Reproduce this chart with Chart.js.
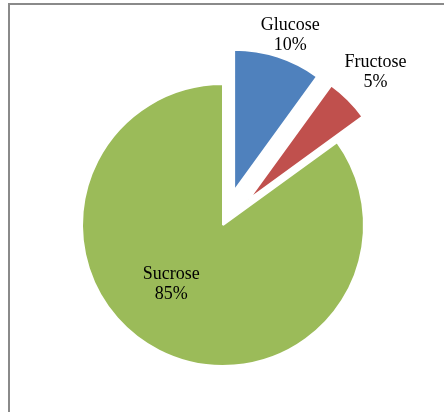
<!DOCTYPE html>
<html>
<head>
<meta charset="utf-8">
<script src="https://cdn.jsdelivr.net/npm/chart.js"></script>
<style>
  html, body { margin: 0; padding: 0; background: #fff; overflow: hidden; }
  #wrap { position: relative; width: 444px; height: 412px; }
</style>
</head>
<body>
<div id="wrap"><canvas id="sugars" width="444" height="412"></canvas></div>
<script>
// sugar share, clockwise from 12 o'clock
const sugars = ["Glucose", "Fructose", "Sucrose"];
const shares = [10, 5, 85];
const sliceColors = ["#4f81bd", "#c0504d", "#9bbb59"];
// how far each slice is pulled out from the centre, px
const pulledOut = [36, 36, 0];

// where each label sits: fraction of the radius out from the centre, and a turn in degrees off the slice middle
const labelSpots = [
    { r: 1.43, turn: 1.5 },
    { r: 1.53, turn: 0 },
    { r: 0.56, turn: 14 }
];

// thin grey frame, open to the right and bottom
const framePlugin = {
    id: "frame",
    beforeDraw(chart) {
        const ctx = chart.ctx;
        ctx.save();
        ctx.fillStyle = "#fff";
        ctx.fillRect(0, 0, chart.width, chart.height);
        ctx.strokeStyle = "#8a8a8a";
        ctx.lineWidth = 2;
        ctx.beginPath();
        ctx.moveTo(9, chart.height);
        ctx.lineTo(9, 4);
        ctx.lineTo(chart.width, 4);
        ctx.stroke();
        ctx.restore();
    }
};

// built-in offset also swells the arc, so shift each slice by hand and keep its radius
const explodePlugin = {
    id: "explode",
    beforeDatasetDraw(chart, args) {
        const ctx = chart.ctx;
        args.meta.data.forEach((arc, i) => {
            const mid = (arc.startAngle + arc.endAngle) / 2;
            ctx.save();
            ctx.translate(Math.cos(mid) * pulledOut[i], Math.sin(mid) * pulledOut[i]);
            arc.draw(ctx, chart.chartArea);
            ctx.restore();
        });
        return false;
    }
};

const labelPlugin = {
    id: "sliceLabels",
    afterDatasetsDraw(chart) {
        const ctx = chart.ctx;
        const meta = chart.getDatasetMeta(0);
        ctx.save();
        ctx.font = "18px 'Liberation Serif', 'Times New Roman', serif";
        ctx.fillStyle = "#000";
        ctx.textAlign = "center";
        ctx.textBaseline = "middle";
        meta.data.forEach((arc, i) => {
            const p = arc.getProps(["x", "y", "startAngle", "endAngle", "outerRadius"], true);
            const mid = (p.startAngle + p.endAngle) / 2 + labelSpots[i].turn * Math.PI / 180;
            const dist = p.outerRadius * labelSpots[i].r;
            const x = p.x + Math.cos(mid) * dist;
            const y = p.y + Math.sin(mid) * dist;
            ctx.fillText(sugars[i], x, y - 10);
            ctx.fillText(shares[i] + "%", x, y + 10);
        });
        ctx.restore();
    }
};

new Chart(document.getElementById("sugars").getContext("2d"), {
    type: "pie",
    data: {
        labels: sugars,
        datasets: [{
            data: shares,
            backgroundColor: sliceColors,
            borderColor: "#fff",
            borderWidth: 2,
            hoverOffset: 0
        }]
    },
    options: {
        responsive: false,
        animation: false,
        radius: 141,
        layout: { padding: { left: 2, right: 0, top: 38, bottom: 0 } },
        plugins: {
            legend: { display: false },
            tooltip: { enabled: false }
        }
    },
    plugins: [framePlugin, explodePlugin, labelPlugin]
});
</script>
</body>
</html>
